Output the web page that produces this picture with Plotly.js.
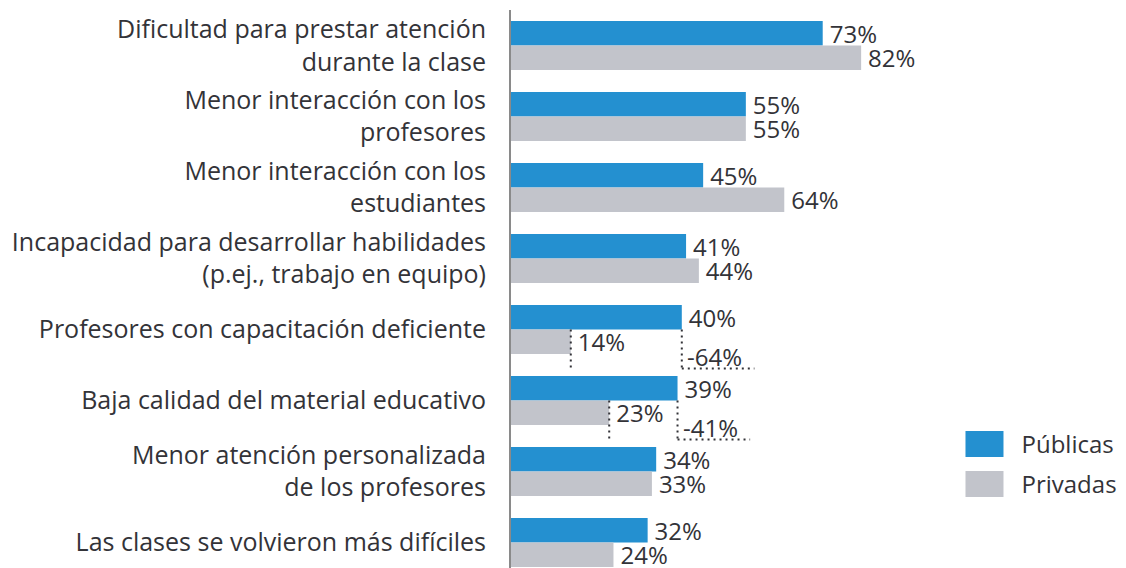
<!DOCTYPE html>
<html>
<head>
<meta charset="utf-8">
<script src="https://cdn.plot.ly/plotly-3.0.1.min.js"></script>
<style>
  body { margin: 0; background: #fff; }
  #chart { width: 1126px; height: 568px; }
</style>
</head>
<body>
<div id="chart"></div>
<script>
// data
var categories = [
    'Dificultad para prestar atención<br>durante la clase',
    'Menor interacción con los<br>profesores',
    'Menor interacción con los<br>estudiantes',
    'Incapacidad para desarrollar habilidades<br>(p.ej., trabajo en equipo)',
    'Profesores con capacitación deficiente',
    'Baja calidad del material educativo',
    'Menor atención personalizada<br>de los profesores',
    'Las clases se volvieron más difíciles'
];
var publicas = [73, 55, 45, 41, 40, 39, 34, 32];
var privadas = [82, 55, 64, 44, 14, 23, 33, 24];

// rows with the dotted "change" callout
var changeRows = [4, 5];
var changeLabels = ['-64%', '-41%'];

var textColor = '#333338';
var fontFam = '"Open Sans", Arial, sans-serif';
var fontSize = 25;
var labelSize = 24;

var Publicas = {
    y: categories,
    x: publicas,
    type: 'bar',
    orientation: 'h',
    name: 'Públicas',
    legendgroup: 'pub',
    marker: { color: '#2490d0' },
    text: publicas.map(v => '\u2009' + v + '%'),
    textposition: 'outside',
    constraintext: 'none',
    cliponaxis: false,
    textfont: { size: labelSize, color: textColor, family: fontFam },
    hoverinfo: 'x+name'
};

var Privadas = {
    y: categories,
    x: privadas,
    type: 'bar',
    orientation: 'h',
    name: 'Privadas',
    legendgroup: 'priv',
    marker: { color: '#c2c4cb' },
    text: privadas.map(v => '\u2009' + v + '%'),
    textposition: 'outside',
    constraintext: 'none',
    cliponaxis: false,
    textfont: { size: labelSize, color: textColor, family: fontFam },
    hoverinfo: 'x+name'
};

// dotted callouts, built from the data
var shapes = [];
var annotations = [];
var dotLine = { color: '#333338', width: 2, dash: '2px,4px' };
changeRows.forEach(function(r, i) {
    shapes.push({ type: 'line', xref: 'x', yref: 'y', x0: privadas[r], x1: privadas[r], y0: r, y1: r + 0.55, line: dotLine });
    shapes.push({ type: 'line', xref: 'x', yref: 'y', x0: publicas[r], x1: publicas[r], y0: r, y1: r + 0.55, line: dotLine });
    shapes.push({ type: 'line', xref: 'x', yref: 'y', x0: publicas[r], x1: publicas[r] + 17, y0: r + 0.55, y1: r + 0.55, line: dotLine });
    annotations.push({
        xref: 'x', yref: 'y', x: publicas[r], y: r + 0.38,
        xanchor: 'left', yanchor: 'middle', xshift: 3,
        text: changeLabels[i], showarrow: false,
        font: { size: labelSize, color: textColor, family: fontFam }
    });
});

var layout = {
    width: 1126,
    height: 568,
    margin: { l: 511, r: 188, t: 10, b: 0 },
    paper_bgcolor: '#fff',
    plot_bgcolor: '#fff',
    font: { family: fontFam, color: textColor, size: fontSize },
    barmode: 'group',
    bargap: 0.31,
    bargroupgap: 0,
    showlegend: true,
    legend: {
        x: 1.055, y: 0.262, xanchor: 'left', yanchor: 'top',
        traceorder: 'grouped',
        tracegroupgap: 6,
        itemwidth: 50,
        font: { size: labelSize, color: textColor, family: fontFam }
    },
    xaxis: {
        range: [0, 100],
        visible: false,
        showgrid: false,
        zeroline: false
    },
    yaxis: {
        type: 'category',
        range: [7.36, -0.5],
        showline: true,
        linecolor: '#8a8a8a',
        linewidth: 2,
        showgrid: false,
        zeroline: false,
        ticks: '',
        ticklabelstandoff: 18,
        automargin: false,
        tickfont: { size: fontSize, color: textColor, family: fontFam }
    },
    shapes: shapes,
    annotations: annotations
};

Plotly.newPlot('chart', [Publicas, Privadas], layout, { displayModeBar: false, staticPlot: true }).then(function() {
    // bigger legend swatches, like the original
    document.querySelectorAll('#chart .legendpoints path').forEach(function(p) {
        p.setAttribute('d', 'M-26,13H12V-13H-26Z');
    });
});
</script>
</body>
</html>
